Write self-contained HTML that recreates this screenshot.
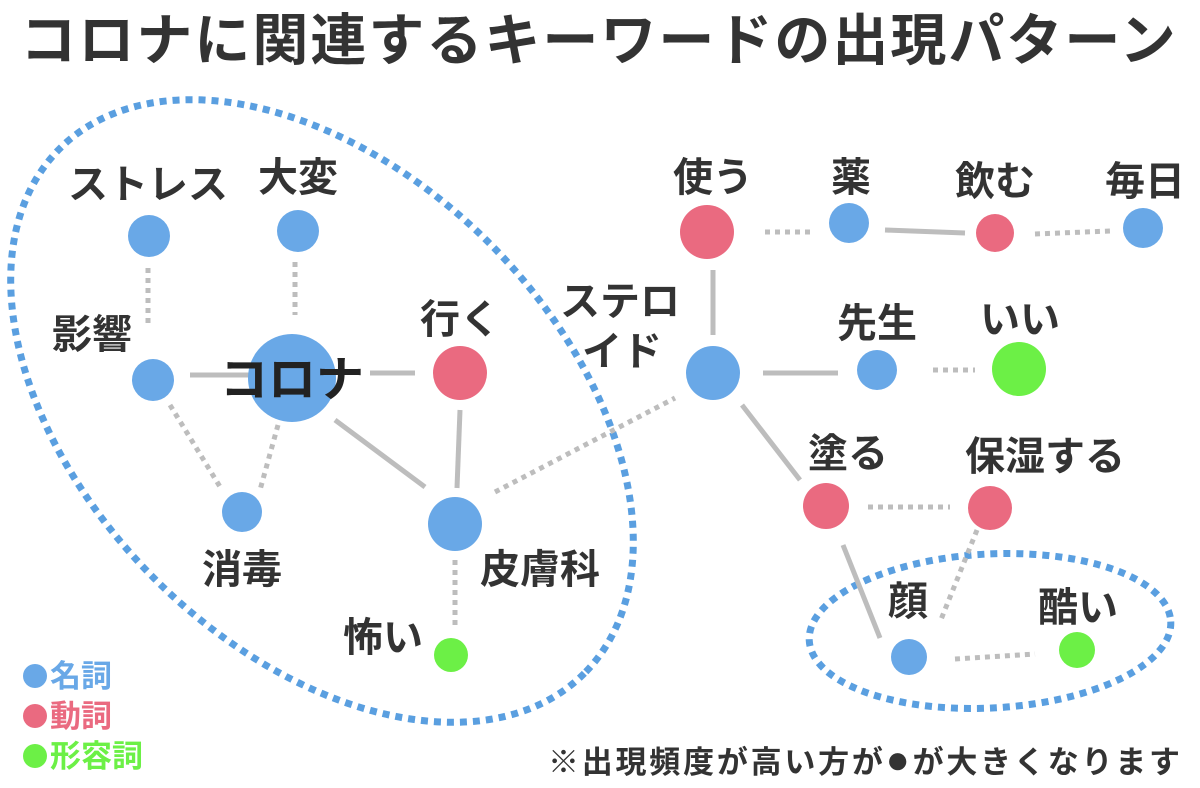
<!DOCTYPE html>
<html><head><meta charset="utf-8"><style>
html,body{margin:0;padding:0;background:#fff;width:1200px;height:788px;overflow:hidden;}
svg{display:block;}
svg text{font-family:"Liberation Sans","Noto Sans CJK JP",sans-serif;font-weight:bold;}
</style></head><body>
<svg width="1200" height="788" viewBox="0 0 1200 788" xmlns="http://www.w3.org/2000/svg">
<text x="599" y="60" text-anchor="middle" font-size="56" fill="#333" letter-spacing="2">コロナに関連するキーワードの出現パターン</text>

<g fill="none" stroke="#5a9fe0" stroke-width="7" stroke-dasharray="7,6">
<ellipse cx="322" cy="411" rx="371" ry="237" transform="rotate(45 322 411)"/>
<ellipse cx="990" cy="631" rx="181" ry="77" transform="rotate(-3 990 631)"/>
</g>

<g stroke="#bdbdbd" stroke-width="5" fill="none">
<line x1="190" y1="375" x2="250" y2="375"/>
<line x1="370" y1="373" x2="415" y2="373"/>
<line x1="335" y1="420" x2="425" y2="487"/>
<line x1="460" y1="410" x2="457" y2="488"/>
<line x1="713" y1="270" x2="713" y2="335"/>
<line x1="885" y1="230" x2="965" y2="233"/>
<line x1="763" y1="373" x2="838" y2="373"/>
<line x1="742" y1="405" x2="800" y2="480"/>
<line x1="843" y1="545" x2="880" y2="638"/>
</g>
<g stroke="#bdbdbd" stroke-width="5" fill="none" stroke-dasharray="5,5">
<line x1="148" y1="268" x2="148" y2="328"/>
<line x1="295" y1="262" x2="295" y2="315"/>
<line x1="170" y1="405" x2="222" y2="490"/>
<line x1="278" y1="425" x2="260" y2="490"/>
<line x1="455" y1="560" x2="455" y2="625"/>
<line x1="495" y1="492" x2="675" y2="398"/>
<line x1="765" y1="232" x2="810" y2="232"/>
<line x1="1035" y1="234" x2="1110" y2="231"/>
<line x1="933" y1="370" x2="975" y2="370"/>
<line x1="868" y1="507" x2="950" y2="507"/>
<line x1="977" y1="530" x2="940" y2="622"/>
<line x1="955" y1="659" x2="1035" y2="654"/>
</g>

<g fill="#69a8e7">
<circle cx="149" cy="236" r="21"/>
<circle cx="298" cy="231" r="21"/>
<circle cx="153" cy="380" r="21"/>
<circle cx="292" cy="378" r="44"/>
<circle cx="242" cy="512" r="20"/>
<circle cx="455" cy="524" r="27"/>
<circle cx="849" cy="223" r="20"/>
<circle cx="1143" cy="228" r="20"/>
<circle cx="713" cy="373" r="27"/>
<circle cx="877" cy="370" r="20"/>
<circle cx="909" cy="657" r="18"/>
</g>
<g fill="#ea6a80">
<circle cx="460" cy="373" r="27"/>
<circle cx="707" cy="232" r="27"/>
<circle cx="995" cy="233" r="19"/>
<circle cx="826" cy="506" r="23"/>
<circle cx="990" cy="508" r="22"/>
</g>
<g fill="#6cf046">
<circle cx="451" cy="655" r="17"/>
<circle cx="1019" cy="369" r="27"/>
<circle cx="1077" cy="650" r="18"/>
</g>

<g font-size="40" fill="#333" text-anchor="middle">
<text x="148" y="198">ストレス</text>
<text x="298" y="191">大変</text>
<text x="92" y="348">影響</text>
<text x="292" y="396" font-size="48" fill="#222">コロナ</text>
<text x="460" y="333">行く</text>
<text x="242" y="583">消毒</text>
<text x="540" y="583">皮膚科</text>
<text x="383" y="651">怖い</text>
<text x="713" y="191">使う</text>
<text x="851" y="191">薬</text>
<text x="995" y="195">飲む</text>
<text x="1145" y="195">毎日</text>
<text x="620" y="315">ステロ</text>
<text x="622" y="365">イド</text>
<text x="877" y="337">先生</text>
<text x="1020" y="333">いい</text>
<text x="848" y="467">塗る</text>
<text x="1045" y="470">保湿する</text>
<text x="908" y="615">顔</text>
<text x="1078" y="621">酷い</text>
</g>

<circle cx="35" cy="676" r="12" fill="#69a8e7"/>
<circle cx="35" cy="716" r="12" fill="#ea6a80"/>
<circle cx="35" cy="756" r="12" fill="#6cf046"/>
<text x="50" y="687" font-size="31" fill="#69a8e7">名詞</text>
<text x="50" y="727" font-size="31" fill="#ea6a80">動詞</text>
<text x="50" y="767" font-size="31" fill="#6cf046">形容詞</text>
<text x="548" y="773" font-size="31" fill="#333" textLength="632" lengthAdjust="spacing">※出現頻度が高い方が<tspan font-size="40">●</tspan>が大きくなります</text>
</svg>
</body></html>
